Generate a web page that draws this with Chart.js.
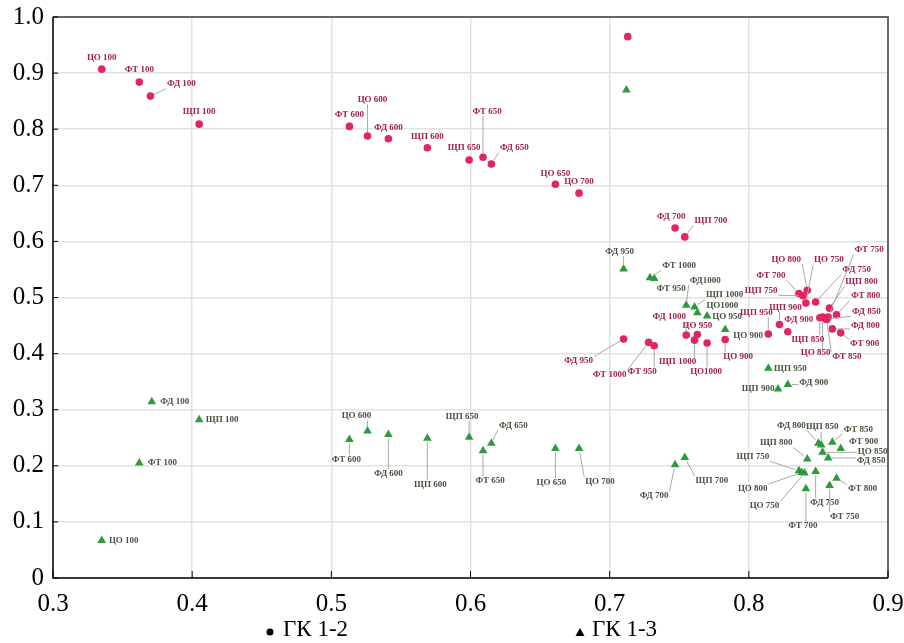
<!DOCTYPE html>
<html>
<head>
<meta charset="utf-8">
<script src="https://cdn.jsdelivr.net/npm/chart.js@4/dist/chart.umd.min.js"></script>
<style>
  html, body { margin: 0; background: #fff; }
</style>
</head>
<body>
<canvas id="chart" width="904" height="643"></canvas>
<script>
// ГК 1-2 (red circles)
const redNames = ['ЦО 100', 'ФТ 100', 'ФД 100', 'ЩП 100', 'ФТ 600', 'ЦО 600', 'ФД 600', 'ЩП 600',
  'ЩП 650', 'ФТ 650', 'ФД 650', 'ЦО 650', 'ЦО 700', '', 'ФД 700', 'ЩП 700',
  'ФД 950', 'ФТ 1000', 'ФТ 950', 'ФД 1000', 'ЦО 950', 'ЩП 1000', 'ЦО1000', 'ЦО 900', 'ЩП 950',
  'ФТ 700', 'ЩП 750', 'ЦО 800', 'ЦО 750', 'ФД 750', 'ЩП 800', 'ФТ 750', 'ФТ 800', 'ФД 850',
  'ФД 800', 'ФТ 900', 'ФТ 850', 'ЦО 850', 'ЩП 850', 'ЩП 900', 'ФД 900'];
const redX = [0.335, 0.362, 0.370, 0.405, 0.513, 0.526, 0.541, 0.569,
  0.599, 0.609, 0.615, 0.661, 0.678, 0.713, 0.747, 0.754,
  0.710, 0.728, 0.732, 0.755, 0.763, 0.761, 0.770, 0.783, 0.814,
  0.836, 0.839, 0.842, 0.841, 0.848, 0.858, 0.857, 0.863, 0.855,
  0.860, 0.866, 0.856, 0.853, 0.851, 0.822, 0.828];
const redY = [0.907, 0.884, 0.859, 0.809, 0.805, 0.788, 0.783, 0.767,
  0.745, 0.750, 0.738, 0.702, 0.686, 0.965, 0.624, 0.608,
  0.426, 0.420, 0.414, 0.433, 0.434, 0.424, 0.419, 0.425, 0.435,
  0.507, 0.503, 0.513, 0.490, 0.492, 0.481, 0.465, 0.469, 0.462,
  0.444, 0.437, 0.461, 0.465, 0.464, 0.452, 0.439];

// ГК 1-3 (green triangles)
const greenNames = ['ЦО 100', 'ФТ 100', 'ФД 100', 'ЩП 100', 'ФТ 600', 'ЦО 600', 'ФД 600', 'ЩП 600',
  'ЩП 650', 'ФТ 650', 'ФД 650', 'ЦО 650', 'ЦО 700', '', 'ФД 700', 'ЩП 700',
  'ФД 950', 'ФТ 1000', 'ФТ 950', 'ФД1000', 'ЩП 1000', 'ЦО1000', 'ЦО 950', 'ЦО 900', 'ЩП 950',
  'ЩП 900', 'ФД 900', 'ЩП 800', 'ЩП 750', 'ЦО 800', 'ЦО 750', 'ФТ 700', 'ФД 750', 'ФТ 750',
  'ФТ 800', 'ФД 800', 'ЩП 850', 'ФТ 850', 'ФТ 900', 'ЦО 850', 'ФД 850'];
const greenX = [0.335, 0.362, 0.371, 0.405, 0.513, 0.526, 0.541, 0.569,
  0.599, 0.609, 0.615, 0.661, 0.678, 0.712, 0.747, 0.754,
  0.710, 0.729, 0.732, 0.755, 0.761, 0.763, 0.770, 0.783, 0.814,
  0.821, 0.828, 0.842, 0.836, 0.838, 0.840, 0.841, 0.848, 0.858,
  0.863, 0.850, 0.852, 0.860, 0.866, 0.853, 0.857];
const greenY = [0.067, 0.205, 0.314, 0.282, 0.247, 0.262, 0.256, 0.249,
  0.251, 0.227, 0.240, 0.231, 0.231, 0.870, 0.202, 0.215,
  0.551, 0.535, 0.534, 0.486, 0.483, 0.473, 0.467, 0.443, 0.374,
  0.337, 0.345, 0.212, 0.191, 0.188, 0.187, 0.159, 0.190, 0.165,
  0.178, 0.240, 0.237, 0.242, 0.231, 0.224, 0.214];

// label placement (pixel offset of label centre from its point)
const redLabelOffsets = [[0, -12], [0, -12], [31, -12], [0, -12], [0, -12], [5, -36], [0, -11], [0, -11],
  [-5, -12], [4, -46], [23, -16], [0, -11], [0, -11], [0, 0], [-4, -11], [26, -16],
  [-45, 22], [-39, 32], [-12, 26], [-17, -18], [0, -9], [-17, 22], [-1, 29], [13, 17], [-12, -21],
  [-28, -18], [-42, -5], [-21, -31], [23, -43], [41, -32], [32, -26], [41, -67], [29, -19], [41, -7],
  [33, -3], [24, 11], [20, 37], [-7, 36], [-12, 22], [6, -17], [11, -12]];
const greenLabelOffsets = [[22, 0], [23, 0], [23, 0], [23, 0], [-3, 20], [-11, -15], [0, 39], [3, 46],
  [-7, -21], [7, 30], [22, -18], [-4, 34], [21, 33], [0, 0], [-21, 31], [27, 23],
  [-4, -17], [29, -12], [17, 10], [19, -25], [30, -12], [25, -7], [20, 1], [23, 6], [22, 0],
  [-20, 0], [26, -2], [-31, -16], [-46, -14], [-49, 16], [-40, 33], [-3, 37], [9, 31], [15, 31],
  [26, 11], [-27, -18], [1, -18], [26, -13], [23, -7], [50, -1], [43, 3]];

const legendNames = ['ГК 1-2', 'ГК 1-3'];

const toPoints = (xs, ys) => xs.map((x, i) => ({ x, y: ys[i] }));

const pointLabels = {
  id: 'pointLabels',
  afterDatasetsDraw(chart) {
    const ctx = chart.ctx;
    ctx.save();
    ctx.font = 'bold 9px "Liberation Serif"';
    ctx.textAlign = 'center';
    ctx.textBaseline = 'middle';
    chart.data.datasets.forEach((ds, i) => {
      const meta = chart.getDatasetMeta(i);
      meta.data.forEach((el, j) => {
        const text = ds.names[j];
        if (!text) return;
        const off = ds.offsets[j];
        const lx = el.x + off[0], ly = el.y + off[1];
        const w = ctx.measureText(text).width + 2, h = 9;
        const nx = Math.max(lx - w / 2, Math.min(el.x, lx + w / 2));
        const ny = Math.max(ly - h / 2, Math.min(el.y, ly + h / 2));
        const d = Math.hypot(nx - el.x, ny - el.y);
        if (d > 9) {
          ctx.strokeStyle = '#a8a8a8';
          ctx.lineWidth = 1;
          ctx.beginPath();
          ctx.moveTo(el.x + (nx - el.x) / d * 4, el.y + (ny - el.y) / d * 4);
          ctx.lineTo(nx, ny);
          ctx.stroke();
        }
        ctx.fillStyle = ds.textColor;
        ctx.fillText(text, lx, ly);
      });
    });
    ctx.restore();
  }
};

const frameAndLegend = {
  id: 'frameAndLegend',
  afterDraw(chart) {
    const ctx = chart.ctx;
    const a = chart.chartArea;
    const xs = chart.scales.x, ys = chart.scales.y;
    ctx.save();
    // frame
    ctx.lineWidth = 2;
    ctx.strokeStyle = '#666';
    ctx.beginPath();
    ctx.moveTo(a.left, a.top); ctx.lineTo(a.right, a.top); ctx.lineTo(a.right, a.bottom);
    ctx.stroke();
    ctx.strokeStyle = '#000';
    ctx.lineWidth = 1.5;
    ctx.beginPath();
    ctx.moveTo(a.left, a.top); ctx.lineTo(a.left, a.bottom); ctx.lineTo(a.right, a.bottom);
    ctx.stroke();
    // inner ticks
    ctx.lineWidth = 1;
    ctx.beginPath();
    xs.ticks.forEach(t => {
      const px = xs.getPixelForValue(t.value);
      ctx.moveTo(px, a.bottom); ctx.lineTo(px, a.bottom - 7);
    });
    ys.ticks.forEach(t => {
      const py = ys.getPixelForValue(t.value);
      ctx.moveTo(a.left, py); ctx.lineTo(a.left + 5, py);
    });
    ctx.stroke();
    // legend
    ctx.fillStyle = '#000';
    ctx.font = '23px "Liberation Serif"';
    ctx.textBaseline = 'middle';
    ctx.textAlign = 'left';
    ctx.beginPath();
    ctx.arc(270, 632, 3.5, 0, Math.PI * 2);
    ctx.fill();
    ctx.fillText(legendNames[0], 283, 630);
    ctx.beginPath();
    ctx.moveTo(580, 628); ctx.lineTo(584.5, 636); ctx.lineTo(575.5, 636); ctx.closePath();
    ctx.fill();
    ctx.fillText(legendNames[1], 592, 630);
    ctx.restore();
  }
};

const tickFont = { family: '"Liberation Serif"', size: 25 };

new Chart(document.getElementById('chart'), {
  type: 'scatter',
  data: {
    datasets: [
      {
        label: legendNames[0],
        data: toPoints(redX, redY),
        names: redNames,
        offsets: redLabelOffsets,
        textColor: '#a3214f',
        pointStyle: 'circle',
        pointRadius: 3.8,
        pointBackgroundColor: '#e2245f',
        pointBorderWidth: 0
      },
      {
        label: legendNames[1],
        data: toPoints(greenX, greenY),
        names: greenNames,
        offsets: greenLabelOffsets,
        textColor: '#45543f',
        pointStyle: 'triangle',
        pointRadius: 5,
        pointBackgroundColor: '#2e9a3c',
        pointBorderWidth: 0
      }
    ]
  },
  options: {
    responsive: false,
    animation: false,
    layout: { padding: { top: 17, right: 16, left: 0, bottom: 0 } },
    plugins: {
      legend: { display: false },
      tooltip: { enabled: false }
    },
    scales: {
      x: {
        type: 'linear',
        min: 0.3,
        max: 0.9,
        afterFit: s => { s.height = 65; s.paddingLeft = 0; s.paddingRight = 0; },
        ticks: {
          stepSize: 0.1,
          color: '#000',
          font: tickFont,
          padding: 11,
          callback: v => v.toFixed(1)
        },
        grid: { color: '#e2e2e2', lineWidth: 1.5, drawTicks: false },
        border: { display: false }
      },
      y: {
        min: 0,
        max: 1,
        afterFit: s => { s.width = 53; s.paddingTop = 0; s.paddingBottom = 0; },
        ticks: {
          stepSize: 0.1,
          color: '#000',
          font: tickFont,
          padding: 9,
          callback: v => (Math.abs(v) < 1e-9 ? '0' : v.toFixed(1))
        },
        grid: { color: '#e2e2e2', lineWidth: 1.5, drawTicks: false },
        border: { display: false }
      }
    }
  },
  plugins: [pointLabels, frameAndLegend]
});
</script>
</body>
</html>
